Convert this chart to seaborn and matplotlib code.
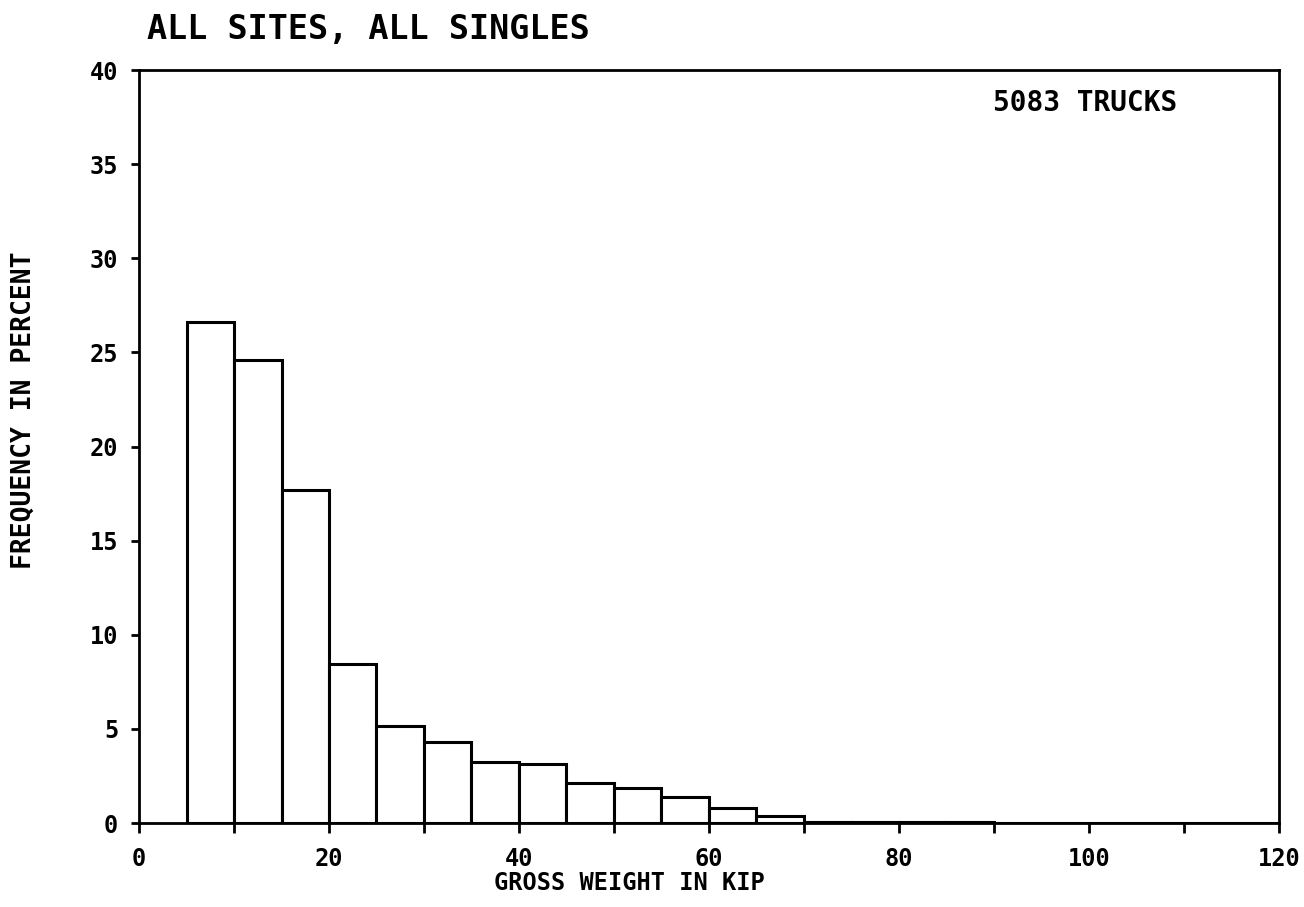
import matplotlib
matplotlib.use("Agg")
import matplotlib.pyplot as plt
from matplotlib.ticker import MultipleLocator
import numpy as np
import seaborn as sns

# Gross-weight distribution of single-unit trucks, 5-kip bins
bin_edges = [5, 10, 15, 20, 25, 30, 35, 40, 45, 50, 55, 60, 65, 70,
             75, 80, 85, 90, 95, 100, 105, 110, 115, 120]
percent = [26.6, 24.6, 17.7, 8.45, 5.15, 4.3, 3.25, 3.15, 2.1, 1.85, 1.4, 0.8, 0.37,
           0.05, 0.08, 0.08, 0.04, 0.02, 0.02, 0.02, 0.02, 0.02, 0.02]
x_ticks = [0, 20, 40, 60, 80, 100, 120]
y_ticks = [0, 5, 10, 15, 20, 25, 30, 35, 40]
truck_count = 5083

sns.set_style("ticks")
plt.rcParams["font.family"] = ["DejaVu Sans Mono", "DejaVu Sans"]
plt.rcParams["font.weight"] = "bold"
plt.rcParams["text.color"] = "black"
plt.rcParams["axes.labelcolor"] = "black"
plt.rcParams["xtick.color"] = "black"
plt.rcParams["ytick.color"] = "black"

fig = plt.figure(figsize=(13.04, 9.07), dpi=100)
ax = fig.add_axes([0.1066, 0.0926, 0.8742, 0.8302])

centers = [(a + b) / 2 for a, b in zip(bin_edges[:-1], bin_edges[1:])]
sns.histplot(x=centers, weights=percent, bins=bin_edges, stat="count",
             color="white", edgecolor="black", linewidth=2.2, alpha=1.0, ax=ax)

ax.set_xlim(0, 120)
ax.set_ylim(0, 40)
ax.set_xticks(x_ticks)
ax.set_xticklabels([str(t) for t in x_ticks])
ax.xaxis.set_minor_locator(MultipleLocator(10))
ax.set_yticks(y_ticks)
ax.set_yticklabels([str(t) for t in y_ticks])

for s in ax.spines.values():
    s.set_linewidth(2.0)
    s.set_color("black")

ax.tick_params(axis="x", which="both", direction="out", length=7, width=2,
               pad=10, labelsize=17, colors="black")
ax.tick_params(axis="y", which="both", direction="out", length=6, width=2,
               pad=9, labelsize=17, colors="black")
for lab in ax.get_xticklabels() + ax.get_yticklabels():
    lab.set_fontweight("bold")

ax.set_xlabel("GROSS WEIGHT IN KIP", fontsize=17, fontweight="bold", color="black")
ax.set_ylabel("FREQUENCY IN PERCENT", fontsize=19, fontweight="bold", color="black")
ax.xaxis.set_label_coords(0.43, -0.064)
ax.yaxis.set_label_coords(-0.09, 0.548)
ax.xaxis.label.set_va("top")

ax.text(0.749, 0.956, f"{truck_count} TRUCKS", transform=ax.transAxes,
        fontsize=20, fontweight="bold", ha="left", va="center", color="black")

fig.text(0.113, 0.967, "ALL SITES, ALL SINGLES", fontsize=24,
         fontweight="bold", ha="left", va="center", color="black")

fig.savefig("out.png", dpi=100, facecolor="white")
